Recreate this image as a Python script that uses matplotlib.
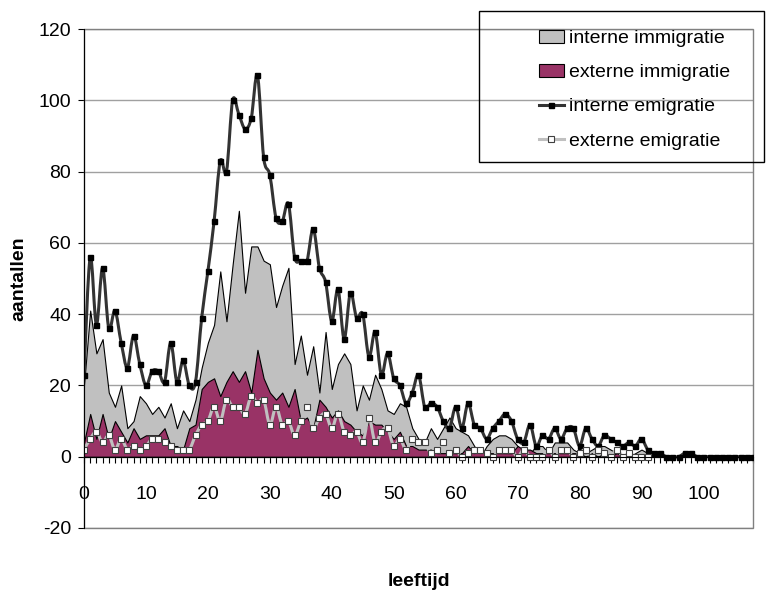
import numpy as np
import matplotlib
matplotlib.use("Agg")
import matplotlib.pyplot as plt
from matplotlib.patches import Rectangle, PathPatch
from matplotlib.path import Path
from matplotlib.lines import Line2D
from matplotlib.ticker import MultipleLocator

# ------------------------------------------------------------
# Data, leeftijd 0..108

leeftijd = np.arange(0, 109)

interne_immigratie = [
    20, 41, 29, 33, 18, 14, 20, 8, 10, 17,
    15, 12, 14, 11, 15, 8, 13, 10, 16, 25,
    32, 37, 52, 38, 54, 69, 46, 59, 59, 55,
    54, 42, 48, 53, 26, 34, 23, 31, 18, 35,
    19, 26, 29, 26, 13, 20, 16, 23, 19, 13,
    12, 15, 14, 8, 5, 4, 8, 5, 8, 11,
    8, 7, 6, 3, 0, 3, 5, 6, 6, 5,
    3, 1, 1, 3, 3, 1, 4, 4, 4, 2,
    1, 1, 2, 3, 3, 2, 1, 0, 0, 1,
    2, 1, 1, 0, 0, 0, 0, 1, 0, 0,
    0, 0, 0, 0, 0, 0, 0, 0, 0,
]

externe_immigratie = [
    4, 12, 5, 12, 5, 10, 7, 4, 8, 5,
    6, 6, 6, 8, 3, 3, 2, 8, 9, 19,
    21, 22, 17, 21, 24, 21, 24, 18, 30, 22,
    18, 16, 18, 14, 19, 10, 11, 8, 16, 14,
    11, 13, 10, 9, 7, 6, 10, 9, 9, 7,
    5, 7, 3, 3, 2, 2, 2, 1, 1, 1,
    1, 1, 3, 1, 2, 1, 1, 1, 1, 1,
    3, 2, 2, 1, 1, 1, 1, 1, 1, 1,
    1, 0, 1, 0, 1, 0, 1, 0, 0, 0,
    0, 0, 0, 0, 0, 0, 0, 0, 0, 0,
    0, 0, 0, 0, 0, 0, 0, 0, 0,
]

interne_emigratie = [
    23, 56, 37, 53, 36, 41, 32, 25, 34, 26,
    20, 24, 24, 21, 32, 21, 27, 20, 21, 39,
    52, 66, 83, 80, 100, 96, 92, 95, 107, 84,
    79, 67, 66, 71, 56, 55, 55, 64, 53, 49,
    38, 47, 33, 46, 39, 40, 28, 35, 23, 29,
    22, 20, 15, 18, 23, 14, 15, 14, 10, 8,
    14, 8, 15, 9, 8, 5, 8, 10, 12, 10,
    5, 4, 9, 3, 6, 5, 8, 5, 8, 8,
    3, 8, 5, 3, 6, 5, 4, 3, 4, 3,
    5, 2, 1, 1, 0, 0, 0, 1, 1, 0,
    0, 0, 0, 0, 0, 0, 0, 0, 0,
]

# externe emigratie stopt bij leeftijd 91
externe_emigratie = [
    2, 5, 7, 4, 6, 2, 5, 2, 3, 2,
    3, 5, 5, 4, 3, 2, 2, 2, 6, 9,
    10, 14, 10, 16, 14, 14, 12, 17, 15, 16,
    9, 14, 9, 10, 6, 10, 14, 8, 11, 12,
    8, 12, 7, 6, 7, 4, 11, 4, 7, 8,
    3, 5, 2, 5, 4, 4, 1, 2, 4, 1,
    2, 0, 1, 2, 2, 1, 0, 2, 2, 2,
    0, 2, 0, 0, 0, 2, 0, 2, 2, 0,
    1, 2, 0, 2, 1, 0, 2, 0, 1, 0,
    0, 0,
]

labels = ["interne immigratie", "externe immigratie",
          "interne emigratie", "externe emigratie"]


def smooth_path(x, y):
    # vloeiende lijn zoals in Excel (Bezier door de datapunten)
    x = np.asarray(x, float)
    y = np.asarray(y, float)
    n = len(x)
    verts = [(x[0], y[0])]
    codes = [Path.MOVETO]
    for i in range(n - 1):
        i0 = max(i - 1, 0)
        i3 = min(i + 2, n - 1)
        c1 = (x[i] + (x[i + 1] - x[i0]) / 6, y[i] + (y[i + 1] - y[i0]) / 6)
        c2 = (x[i + 1] - (x[i3] - x[i]) / 6, y[i + 1] - (y[i3] - y[i]) / 6)
        verts += [c1, c2, (x[i + 1], y[i + 1])]
        codes += [Path.CURVE4] * 3
    return Path(verts, codes)


def main():
    plt.rcParams['font.family'] = ['Liberation Sans', 'DejaVu Sans']
    plt.rcParams['axes.unicode_minus'] = False
    fs = 14

    fig = plt.figure(figsize=(7.69, 5.97), dpi=100)
    ax = fig.add_axes([84 / 769, 1 - 528 / 597, 669 / 769, 499 / 597])

    x_em = leeftijd[:len(externe_emigratie)]

    # vlakken
    ax.fill_between(leeftijd, 0, interne_immigratie, facecolor="#c0c0c0",
                    edgecolor="black", linewidth=0.8, zorder=2)
    ax.fill_between(leeftijd, 0, externe_immigratie, facecolor="#993366",
                    edgecolor="black", linewidth=0.8, zorder=3)

    # lijnen (vloeiend) met markers
    ax.add_patch(PathPatch(smooth_path(leeftijd, interne_emigratie), fill=False,
                           edgecolor="#333333", lw=2.2, zorder=4,
                           capstyle="round", joinstyle="round"))
    ax.plot(leeftijd, interne_emigratie, ls="none", marker="s", ms=3.6,
            mfc="black", mec="black", zorder=4.5)
    ax.add_patch(PathPatch(smooth_path(x_em, externe_emigratie), fill=False,
                           edgecolor="#c0c0c0", lw=2.2, zorder=5,
                           capstyle="round", joinstyle="round"))
    ax.plot(x_em, externe_emigratie, ls="none", marker="s", ms=4.2,
            mfc="white", mec="#404040", mew=0.8, zorder=5.5)

    ax.set_xlim(0, 108)
    ax.set_ylim(-20, 120)

    # rand plotgebied
    for s in ["top", "right"]:
        ax.spines[s].set_visible(False)
    ax.add_patch(Rectangle((0, 0), 1, 1, transform=ax.transAxes, fill=False,
                           edgecolor="#808080", lw=1.0, zorder=1, clip_on=False))
    ax.spines["left"].set_color("black")
    ax.spines["left"].set_zorder(6)
    ax.spines["bottom"].set_position(("data", 0))
    ax.spines["bottom"].set_color("black")
    ax.spines["bottom"].set_zorder(6)

    ax.yaxis.set_major_locator(MultipleLocator(20))
    ax.grid(axis="y", color="#a0a0a0", lw=1.0, zorder=0)
    ax.set_axisbelow(True)

    ax.set_xticks(np.arange(0, 101, 10))
    ax.xaxis.set_minor_locator(MultipleLocator(1))
    ax.tick_params(axis="x", which="both", direction="out", length=4.3,
                   width=0.8, color="black")
    ax.tick_params(axis="x", which="major", pad=16.5, labelsize=fs)
    ax.tick_params(axis="y", direction="out", length=4.3, width=0.8,
                   pad=5, labelsize=fs)

    ax.set_ylabel("aantallen", fontsize=fs, fontweight="bold")
    ax.yaxis.set_label_coords(-0.084, 0.5)
    ax.set_xlabel("leeftijd", fontsize=fs, fontweight="bold")
    ax.xaxis.set_label_coords(0.5, -0.09)

    # legenda
    handles = [
        Rectangle((0, 0), 1, 1, facecolor="#c0c0c0", edgecolor="black", lw=0.8),
        Rectangle((0, 0), 1, 1, facecolor="#993366", edgecolor="black", lw=0.8),
        Line2D([], [], color="#333333", lw=2.2, marker="s", ms=3.6,
               mfc="black", mec="black"),
        Line2D([], [], color="#c0c0c0", lw=2.2, marker="s", ms=4.2,
               mfc="white", mec="#404040", mew=0.8),
    ]
    fig.patches.append(Rectangle((479 / 769, 1 - 162 / 597), 285 / 769, 151 / 597,
                                 transform=fig.transFigure, fill=False,
                                 edgecolor="black", lw=1.0))
    fig.legend(handles, labels, loc="upper left",
               bbox_to_anchor=(523 / 769, 1 - 14 / 597), frameon=False,
               fontsize=fs, handlelength=1.3, handleheight=0.7,
               handletextpad=0.25, labelspacing=0.85, borderpad=0.3)

    fig.savefig("out.png", dpi=100, facecolor="white")


if __name__ == "__main__":
    main()
